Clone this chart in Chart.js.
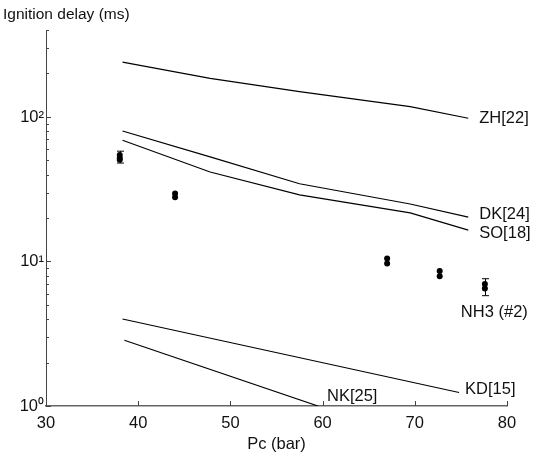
<!DOCTYPE html>
<html>
<head>
<meta charset="utf-8">
<script src="https://cdn.jsdelivr.net/npm/chart.js@4/dist/chart.umd.min.js"></script>
<style>
  html, body { margin: 0; padding: 0; background: #fff; }
</style>
</head>
<body>
<canvas id="grafico" width="542" height="459"></canvas>
<script>
// correlations from the literature, Pc (bar) vs ignition delay (ms)
const pcZH = [38.3, 47.8, 57.5, 69.5, 75.8];
const delayZH = [240, 185, 150, 118, 98];

const pcDK = [38.3, 47.8, 57.5, 69.5, 75.8];
const delayDK = [80, 53, 34.5, 25, 20.3];

const pcSO = [38.3, 47.8, 57.5, 69.5, 75.8];
const delaySO = [69, 41.6, 28.9, 21.7, 16.5];

const pcKD = [38.3, 74.8];
const delayKD = [4.0, 1.24];

const pcNK = [38.5, 59.5];
const delayNK = [2.85, 1.0];

// measured points, NH3 (#2)
const pcNH3 = [38.0, 38.0, 38.0, 44.0, 44.0, 67.0, 67.0, 72.7, 72.7, 77.6, 77.6];
const delayNH3 = [54.5, 52, 50.5, 29.5, 27.8, 10.5, 9.7, 8.6, 7.9, 7.0, 6.5];

// error bars
const pcErr = [38.0, 77.6];
const errLow = [48, 5.8];
const errHigh = [58, 7.6];

// axis ticks
const xTicks = [30, 40, 50, 60, 70, 80];
const yTicks = [1, 10, 100];
const yTickLabels = ['10⁰', '10¹', '10²'];
const yMinorTicks = [2, 3, 4, 5, 6, 7, 8, 9, 20, 30, 40, 50, 60, 70, 80, 90, 200, 300, 400];

const FONT = 'Liberation Sans, Arial, Helvetica, sans-serif';
const ctx = document.getElementById('grafico');

function pts(xs, ys) {
    return xs.map(function (v, i) { return { x: v, y: ys[i] }; });
}

function linha(nome, xs, ys, dx, dy) {
    return {
        type: 'line',
        label: nome,
        data: pts(xs, ys),
        borderColor: '#000',
        borderWidth: 1.2,
        pointRadius: 0,
        tension: 0,
        fill: false,
        tag: { dx: dx, dy: dy }
    };
}

// inward tick marks, error bars and the labels at the end of each curve
const extras = {
    id: 'extras',
    afterDatasetsDraw(chart) {
        const c = chart.ctx;
        const x = chart.scales.x;
        const y = chart.scales.y;
        const area = chart.chartArea;
        c.save();
        c.strokeStyle = '#000';
        c.lineWidth = 1;

        // error bars
        c.beginPath();
        pcErr.forEach(function (p, i) {
            const px = Math.round(x.getPixelForValue(p)) + 0.5;
            const yl = y.getPixelForValue(errLow[i]);
            const yh = y.getPixelForValue(errHigh[i]);
            c.moveTo(px, yl); c.lineTo(px, yh);
            c.moveTo(px - 3.5, yl); c.lineTo(px + 3.5, yl);
            c.moveTo(px - 3.5, yh); c.lineTo(px + 3.5, yh);
        });
        c.stroke();

        // tick marks pointing into the plot
        c.strokeStyle = '#444';
        c.beginPath();
        xTicks.forEach(function (v) {
            const px = Math.round(x.getPixelForValue(v)) + 0.5;
            c.moveTo(px, area.bottom); c.lineTo(px, area.bottom - 5);
        });
        yTicks.forEach(function (v) {
            const py = Math.round(y.getPixelForValue(v)) + 0.5;
            c.moveTo(area.left, py); c.lineTo(area.left + 5, py);
        });
        yMinorTicks.forEach(function (v) {
            const py = Math.round(y.getPixelForValue(v)) + 0.5;
            c.moveTo(area.left, py); c.lineTo(area.left + 3, py);
        });
        c.stroke();

        // curve labels
        c.fillStyle = '#111';
        c.font = '16.5px ' + FONT;
        c.textBaseline = 'middle';
        c.textAlign = 'left';
        chart.data.datasets.forEach(function (ds) {
            if (!ds.tag) return;
            const last = ds.data[ds.data.length - 1];
            const px = x.getPixelForValue(last.x);
            const py = y.getPixelForValue(last.y);
            c.fillText(ds.label, px + ds.tag.dx, py + ds.tag.dy);
        });
        c.restore();
    }
};

new Chart(ctx, {
    type: 'scatter',
    data: {
        datasets: [
            linha('ZH[22]', pcZH, delayZH, 11, 0),
            linha('DK[24]', pcDK, delayDK, 11, -3),
            linha('SO[18]', pcSO, delaySO, 11, 3),
            linha('KD[15]', pcKD, delayKD, 6, -3),
            linha('NK[25]', pcNK, delayNK, 9, -10),
            {
                type: 'scatter',
                label: 'NH3 (#2)',
                data: pts(pcNH3, delayNH3),
                backgroundColor: '#000',
                borderColor: '#000',
                pointRadius: 3,
                pointBorderWidth: 0,
                tag: { dx: -24, dy: 24 }
            }
        ]
    },
    plugins: [extras],
    options: {
        responsive: false,
        animation: false,
        layout: { padding: { left: 3, right: 35, top: 0, bottom: 0 } },
        plugins: {
            legend: { display: false },
            tooltip: { enabled: false },
            title: {
                display: true,
                text: 'Ignition delay (ms)',
                align: 'start',
                color: '#111',
                font: { family: FONT, size: 15.5, weight: 'normal', lineHeight: 1.2 },
                padding: { top: 5, bottom: 6.4 }
            }
        },
        scales: {
            x: {
                type: 'linear',
                min: 30,
                max: 80,
                grid: { display: false, drawTicks: false },
                border: { display: true, color: '#666', width: 1.5 },
                afterBuildTicks: function (scale) {
                    scale.ticks = xTicks.map(function (v) { return { value: v }; });
                },
                afterFit: function (scale) { scale.height = 53; },
                ticks: {
                    color: '#111',
                    padding: 8,
                    maxRotation: 0,
                    font: { family: FONT, size: 16.5 }
                },
                title: {
                    display: true,
                    text: 'Pc (bar)',
                    color: '#111',
                    font: { family: FONT, size: 16.5 },
                    padding: { top: 4, bottom: 5 }
                }
            },
            y: {
                type: 'logarithmic',
                min: 1,
                max: 400,
                grid: { display: false, drawTicks: false },
                border: { display: true, color: '#444', width: 1 },
                afterBuildTicks: function (scale) {
                    scale.ticks = yTicks.map(function (v) { return { value: v }; });
                },
                afterFit: function (scale) { scale.width = 43; },
                ticks: {
                    color: '#111',
                    padding: 2,
                    font: { family: FONT, size: 16.5 },
                    callback: function (value) {
                        const i = yTicks.indexOf(value);
                        return i >= 0 ? yTickLabels[i] : '';
                    }
                }
            }
        }
    }
});
</script>
</body>
</html>
